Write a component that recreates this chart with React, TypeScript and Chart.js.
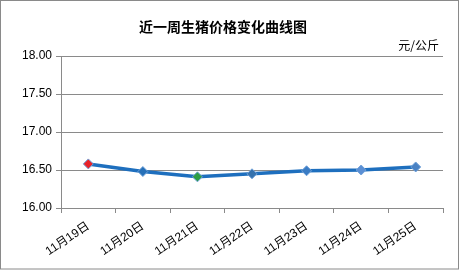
import React, { useEffect, useRef } from "react";
import { Chart, registerables } from "chart.js";

Chart.register(...registerables);

const categories = ["11月19日", "11月20日", "11月21日", "11月22日", "11月23日", "11月24日", "11月25日"];
const prices = [16.58, 16.48, 16.41, 16.45, 16.49, 16.5, 16.54];
const pointColors = ["#e8232a", "#2670b8", "#2e9e44", "#3672ad", "#3a7cc4", "#5b8fd4", "#4a82c4"];
const titleText = "近一周生猪价格变化曲线图";
const unitText = "元/公斤";
const yMin = 16;
const yMax = 18;
const yStep = 0.5;

const decorPlugin = {
  id: "decor",
  afterDraw(chart: any) {
    const ctx = chart.ctx;
    ctx.save();
    ctx.strokeStyle = "#8a8a8a";
    ctx.lineWidth = 1;
    ctx.strokeRect(0.5, 0.5, 458, 268.5);
    ctx.fillStyle = "#000";
    ctx.textAlign = "center";
    ctx.textBaseline = "middle";
    ctx.font = "bold 14px 'Noto Sans CJK SC'";
    ctx.fillText(titleText, 223, 27);
    ctx.textAlign = "right";
    ctx.font = "12px 'Noto Sans CJK SC'";
    ctx.fillText(unitText, 439, 45);
    ctx.restore();
  },
};

export default function App() {
  const ref = useRef<HTMLCanvasElement>(null);
  useEffect(() => {
    document.body.style.margin = "0";
    const chart = new Chart(ref.current!, {
      type: "line",
      data: {
        labels: categories,
        datasets: [
          {
            data: prices,
            borderColor: "#1e6fbe",
            borderWidth: 3.5,
            pointStyle: "rectRot",
            pointRadius: 5,
            pointBackgroundColor: pointColors,
            pointBorderColor: "#6fa0d8",
            pointBorderWidth: 1,
            tension: 0,
          },
        ],
      },
      options: {
        animation: false,
        responsive: false,
        maintainAspectRatio: false,
        layout: { padding: { left: 0, right: 17, top: 56, bottom: 0 } },
        plugins: { legend: { display: false }, title: { display: false }, tooltip: { enabled: false } },
        scales: {
          x: {
            offset: true,
            grid: { offset: true, drawOnChartArea: false, drawTicks: true, tickLength: 5, color: "#8a8a8a" },
            border: { color: "#8a8a8a" },
            ticks: {
              minRotation: 34,
              maxRotation: 34,
              color: "#000",
              font: { family: "'Liberation Sans', 'Noto Sans CJK SC'", size: 12 },
              padding: 6,
            },
            afterFit: (s: any) => {
              s.height = 62;
            },
          },
          y: {
            min: yMin,
            max: yMax,
            grid: { color: "#8a8a8a", tickLength: 5 },
            border: { color: "#8a8a8a" },
            ticks: {
              stepSize: yStep,
              color: "#000",
              padding: 4,
              font: { family: "'Liberation Sans'", size: 12 },
              callback: (v: any) => Number(v).toFixed(2),
            },
            afterFit: (s: any) => {
              s.width = 61;
            },
          },
        },
      },
      plugins: [decorPlugin],
    });
    return () => chart.destroy();
  }, []);
  return (
    <div style={{ position: "fixed", left: 0, top: 0, width: 460, height: 270, background: "#fff" }}>
      <canvas ref={ref} width={460} height={270} style={{ width: 460, height: 270 }} />
    </div>
  );
}
